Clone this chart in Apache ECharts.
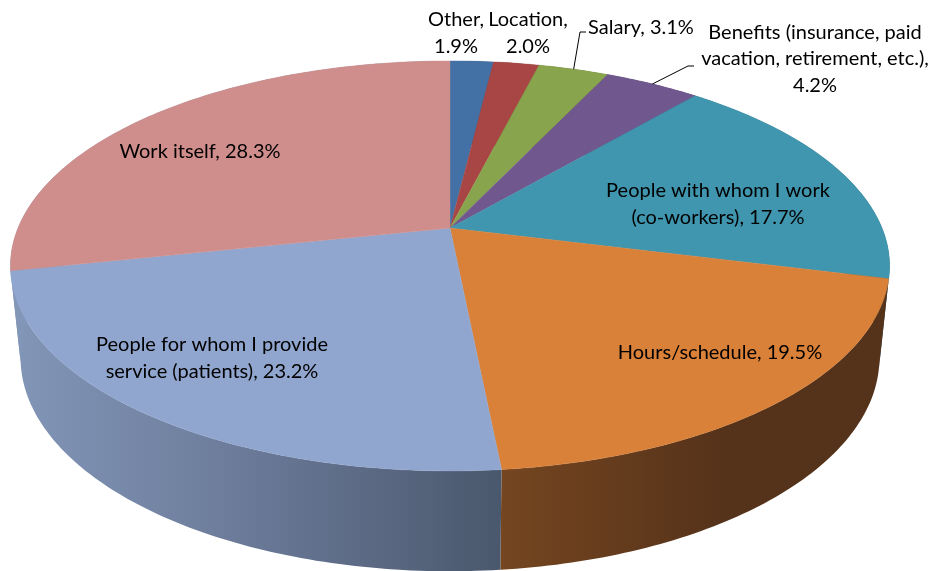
<!DOCTYPE html>
<html>
<head>
<meta charset="utf-8">
<style>html,body{margin:0;padding:0;background:#fff}#c{width:935px;height:571px}</style>
<script src="https://cdn.jsdelivr.net/npm/echarts@6/dist/echarts.min.js"></script>
</head>
<body>
<div id="c"></div>
<script>
// Data, clockwise from twelve o'clock
var categories = ['Other,\n', 'Location,\n', 'Salary, ', 'Benefits (insurance, paid\nvacation, retirement, etc.),\n',
  'People with whom I work\n(co-workers), ', 'Hours/schedule, ', 'People for whom I provide\nservice (patients), ', 'Work itself, '];
var values = [1.9, 2.0, 3.1, 4.2, 17.7, 19.5, 23.2, 28.3];

// Styles
var topColors = ['#4371A6', '#A74644', '#88A44D', '#70588E', '#3F96AE', '#D98039', '#91A6CE', '#CF8E8C'];
var wallStops = [
  [[0, '#2a4466'], [1, '#2a4466']], [[0, '#662a28'], [1, '#662a28']], [[0, '#52632f'], [1, '#52632f']],
  [[0, '#443556'], [1, '#443556']], [[0, '#275b69'], [1, '#275b69']],
  [[0, '#754620'], [0.58, '#55321a'], [1, '#55321a']],
  [[0, '#8296b8'], [0.4, '#6f7f9e'], [0.7, '#5d6b86'], [1, '#4a586d']],
  [[0, '#8296b8'], [1, '#8296b8']]
];
var labelCenters = [[456, 33], [528, 33], [641, 28], [815, 59], [718, 204], [720, 353], [212, 358], [200, 152]];
var leaderIndex = [2, 3];
var leaderElbows = [[[580, 32], [586, 32]], [[688, 66], [694, 66]]];

// Projection of the tilted disc
var total = values.reduce(function (a, b) { return a + b; }, 0);
var starts = [];
values.reduce(function (acc, v, i) { starts[i] = acc; return acc + v; }, 0);
var cx = 450, k = 0.185;
var topDisc = { a: 432, b: 198, y: 228 };
var baseDisc = { a: 422, b: 206, y: 318.5 };
function project(disc, share) {
  var t = share / total * 2 * Math.PI;
  var u = Math.sin(t), v = -Math.cos(t), w = 1 - k * v;
  return [cx + disc.a * u / w, disc.y + disc.b * v / w];
}
function arc(disc, from, to) {
  var n = Math.max(2, Math.ceil((to - from) * 4)), pts = [];
  for (var i = 0; i <= n; i++) pts.push(project(disc, from + (to - from) * i / n));
  return pts;
}

function renderWall(params) {
  var i = params.dataIndex;
  var top = arc(topDisc, starts[i], starts[i] + values[i]);
  var base = arc(baseDisc, starts[i], starts[i] + values[i]).reverse();
  var pts = top.concat(base);
  var xs = pts.map(function (p) { return p[0]; });
  var stops = wallStops[i].map(function (s) { return { offset: s[0], color: s[1] }; });
  var fill = new echarts.graphic.LinearGradient(Math.min.apply(null, xs), 0, Math.max.apply(null, xs), 0, stops, true);
  return { type: 'polygon', shape: { points: pts }, style: { fill: fill }, silent: true };
}
function renderTop(params) {
  var i = params.dataIndex;
  var pts = [[cx, topDisc.y]].concat(arc(topDisc, starts[i], starts[i] + values[i]));
  return { type: 'polygon', shape: { points: pts }, style: { fill: topColors[i], stroke: topColors[i], lineWidth: 0.4 }, silent: true };
}
function renderLabel(params) {
  var i = params.dataIndex, kids = [];
  var c = labelCenters[i];
  kids.push({
    type: 'text', silent: true,
    style: {
      x: c[0], y: c[1], text: categories[i] + values[i].toFixed(1) + '%',
      align: 'center', verticalAlign: 'middle', lineHeight: 26.7,
      font: '20px Lato, sans-serif', fill: '#000'
    }
  });
  var li = leaderIndex.indexOf(i);
  if (li >= 0) {
    var rim = project(topDisc, starts[i] + values[i] / 2);
    kids.push({ type: 'polyline', silent: true, shape: { points: [rim].concat(leaderElbows[li]) },
      style: { stroke: '#000', lineWidth: 1, fill: null } });
  }
  return { type: 'group', children: kids };
}

var chart = echarts.init(document.getElementById('c'), null, { renderer: 'canvas' });
chart.setOption({
  animation: false,
  backgroundColor: '#fff',
  series: [
    { type: 'custom', coordinateSystem: 'none', z: 1, data: values, renderItem: renderWall },
    { type: 'custom', coordinateSystem: 'none', z: 2, data: values, renderItem: renderTop },
    { type: 'custom', coordinateSystem: 'none', z: 3, data: values, renderItem: renderLabel }
  ]
});
</script>
</body>
</html>
